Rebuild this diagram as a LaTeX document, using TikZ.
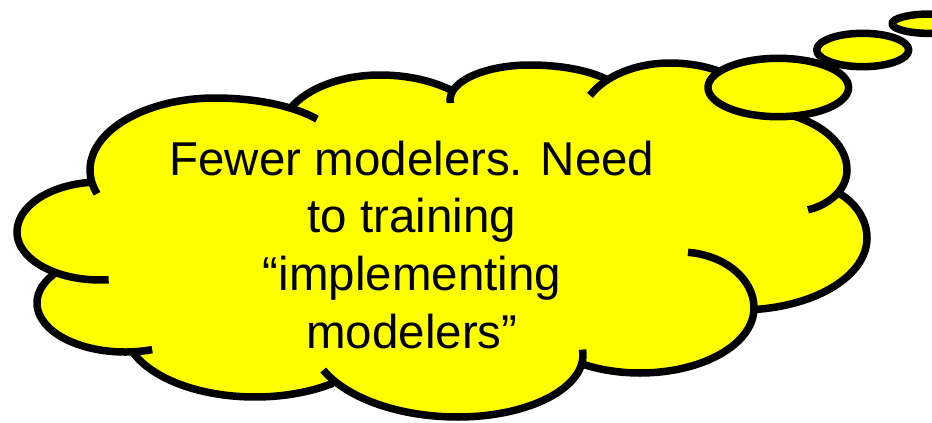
\documentclass[tikz,border=0pt]{standalone}
\usepackage{fontspec}
\setmainfont{Liberation Sans}
\usetikzlibrary{calc}
\begin{document}
\begin{tikzpicture}[x=1pt,y=-1pt,
  cloudline/.style={line width=7.5pt,line cap=butt,line join=round},
  cloudfill/.style={fill={rgb,255:red,255;green,255;blue,0}},
  bubble/.style={cloudline,draw=black,cloudfill},
  txt/.style={anchor=base,inner sep=0pt,font=\fontsize{47.5}{57.7}\selectfont}]
\useasboundingbox (0,0) rectangle (932,423);
\clip (0,0) rectangle (932,423);
% ---- fill of the cloud body (outer outline, clockwise on screen)
\fill[cloudfill]
  ($(215,170)+(189.7:125 and 72)$)
    arc[start angle=189.7,end angle=270,x radius=125,y radius=72]
    arc[start angle=270,end angle=306.9,x radius=125,y radius=50]
  -- ($(380,135)+(205.8:100 and 60)$)
    arc[start angle=205.8,end angle=270,x radius=100,y radius=60]
    arc[start angle=270,end angle=313.8,x radius=107,y radius=60]
  -- ($(530,100)+(195.7:80 and 35)$)
    arc[start angle=195.7,end angle=270,x radius=80,y radius=35]
    arc[start angle=270,end angle=324.2,x radius=95,y radius=35]
  -- ($(670,123)+(225.6:90 and 60)$)
    arc[start angle=225.6,end angle=270,x radius=90,y radius=60]
    arc[start angle=270,end angle=330,x radius=85,y radius=45]
  -- ($(752,170)+(270:95 and 60)$)
    arc[start angle=270,end angle=360,x radius=95,y radius=60]
    arc[start angle=0,end angle=32.6,x radius=57,y radius=42]
  -- ($(800,238)+(304.6:67 and 55)$)
    arc[start angle=304.6,end angle=360,x radius=67,y radius=55]
    arc[start angle=0,end angle=84.1,x radius=127,y radius=72]
  -- ($(640,308)+(7.5:114 and 65)$)
    arc[start angle=7.5,end angle=121.7,x radius=114,y radius=65]
  -- ($(458,355)+(12.6:125 and 62)$)
    arc[start angle=12.6,end angle=90,x radius=125,y radius=62]
    arc[start angle=90,end angle=144.9,x radius=148,y radius=80]
  -- ($(255,327)+(53.5:131 and 70)$)
    arc[start angle=53.5,end angle=158.2,x radius=131,y radius=70]
  -- ($(125,303)+(72:88 and 49)$)
    arc[start angle=72,end angle=216.5,x radius=88,y radius=49]
  -- ($(100,232)+(121.2:83 and 48)$)
    arc[start angle=121.2,end angle=180,x radius=83,y radius=48]
    arc[start angle=180,end angle=263.8,x radius=83,y radius=50]
  -- cycle;
% ---- lobe outlines, each with its inner arc
\draw[cloudline] ($(100,232)+(84:83 and 48)$)
    arc[start angle=84,end angle=180,x radius=83,y radius=48]
    arc[start angle=180,end angle=263.8,x radius=83,y radius=50];
\draw[cloudline] ($(215,170)+(160.7:125 and 72)$)
    arc[start angle=160.7,end angle=270,x radius=125,y radius=72]
    arc[start angle=270,end angle=324.7,x radius=125,y radius=50];
\draw[cloudline] ($(380,135)+(205.8:100 and 60)$)
    arc[start angle=205.8,end angle=270,x radius=100,y radius=60]
    arc[start angle=270,end angle=313.8,x radius=107,y radius=60];
\draw[cloudline] ($(530,100)+(175:80 and 35)$)
    arc[start angle=175,end angle=270,x radius=80,y radius=35]
    arc[start angle=270,end angle=324.2,x radius=95,y radius=35];
\draw[cloudline] ($(670,123)+(207.3:90 and 60)$)
    arc[start angle=207.3,end angle=270,x radius=90,y radius=60]
    arc[start angle=270,end angle=330,x radius=85,y radius=45];
\draw[cloudline] ($(752,170)+(270:95 and 60)$)
    arc[start angle=270,end angle=360,x radius=95,y radius=60]
    arc[start angle=0,end angle=71.6,x radius=57,y radius=42];
\draw[cloudline] ($(800,238)+(304.6:67 and 55)$)
    arc[start angle=304.6,end angle=360,x radius=67,y radius=55]
    arc[start angle=0,end angle=84.1,x radius=127,y radius=72];
\draw[cloudline] ($(680,308)+(276.2:74 and 56)$)
    arc[start angle=276.2,end angle=360,x radius=74,y radius=56]
    arc[start angle=0,end angle=121.7,x radius=114,y radius=65];
\draw[cloudline] ($(458,355)+(-5:125 and 62)$)
    arc[start angle=-5,end angle=90,x radius=125,y radius=62]
    arc[start angle=90,end angle=155.6,x radius=148,y radius=80];
\draw[cloudline] ($(255,327)+(53.5:131 and 70)$)
    arc[start angle=53.5,end angle=158.2,x radius=131,y radius=70];
\draw[cloudline] ($(125,303)+(72:88 and 49)$)
    arc[start angle=72,end angle=216.5,x radius=88,y radius=49];
% ---- thought bubbles
\draw[bubble] (778.3,87.5) ellipse [x radius=70.3, y radius=29.2];
\draw[bubble] (862.7,50) ellipse [x radius=46, y radius=16.7];
\draw[bubble] (930,23.7) ellipse [x radius=38, y radius=9.7];
% ---- text
\node[txt] (t1) at (412,175) {Fewer modelers. Need};
\node[txt] (t2) at (412,232.7) {to training};
\node[txt] (t3) at (412,290.4) {“implementing};
\node[txt] (t4) at (412,348) {modelers”};
\end{tikzpicture}
\end{document}
